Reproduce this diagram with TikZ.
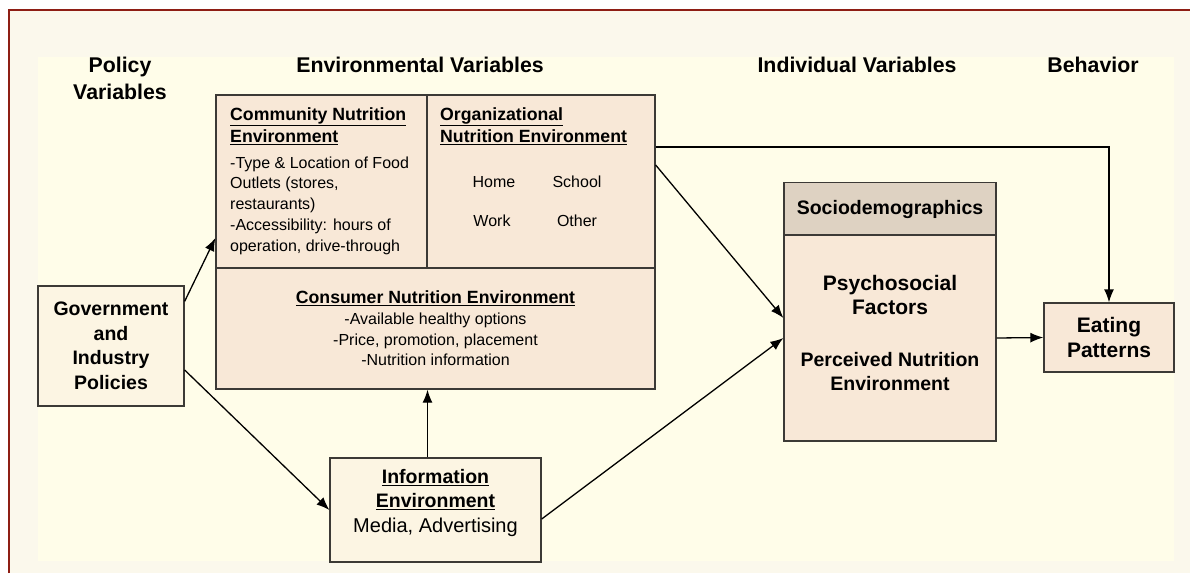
\documentclass[tikz,border=0pt]{standalone}
\usepackage{fontspec}
\setmainfont{Liberation Sans}
\usepackage{xcolor}
\definecolor{frameRed}{HTML}{8E1E14}
\definecolor{paperCream}{HTML}{FBF8EC}
\definecolor{panelCream}{HTML}{FFFDE9}
\definecolor{boxPeach}{HTML}{F8E8D7}
\definecolor{boxCream}{HTML}{FCF5E3}
\definecolor{headTaupe}{HTML}{DED2C2}
\definecolor{edgeGrey}{HTML}{3C3A36}
\usetikzlibrary{arrows.meta}
\tikzset{arrow/.style = {> = {Latex[length = 13pt, width = 10pt]}}}
\usetikzlibrary{positioning}

\newcommand{\headfont}{\fontsize{21.3}{27}\selectfont\bfseries}
\newcommand{\boxfont}{\fontsize{19.5}{24.5}\selectfont\bfseries}
\newcommand{\titlefont}{\fontsize{17.7}{22}\selectfont\bfseries}
\newcommand{\bodyfont}{\fontsize{16}{20.7}\selectfont}

\begin{document}
\begin{tikzpicture}[x = 1pt, y = -1pt,
	heading/.style = {font = \headfont, align = center, inner sep = 0pt},
	block/.style = {rectangle, draw = edgeGrey, line width = 1.3pt, fill = boxPeach, inner sep = 0pt, align = center},
	lightblock/.style = {block, fill = boxCream},
	headblock/.style = {block, fill = headTaupe},
	label/.style = {inner sep = 0pt, align = left}]
	\useasboundingbox (0, 0) rectangle (1190, 573);

	%% Paper
	\fill[paperCream] (9, 10) rectangle (1190, 573);
	\fill[panelCream] (38, 57) rectangle (1174, 561);
	\draw[frameRed, line width = 1.5pt] (9, 573) -- (9, 10) -- (1190, 10);

	%% Column headings
	\node[heading] (policy) at (120, 78.5) {Policy\\Variables};
	\node[heading] (envvar) at (420, 65) {Environmental Variables};
	\node[heading] (indvar) at (857, 65) {Individual Variables};
	\node[heading] (behav) at (1093, 65) {Behavior};

	%% Policy
	\node[lightblock, minimum width = 146pt, minimum height = 120pt, font = \boxfont] (gov) at (111, 346) {Government\\and\\Industry\\Policies};

	%% Environment
	\node[block, minimum width = 211pt, minimum height = 173pt] (community) at (321.5, 181.5) {};
	\node[block, minimum width = 228pt, minimum height = 173pt] (org) at (541, 181.5) {};
	\node[block, minimum width = 439pt, minimum height = 121pt, font = \bodyfont] (consumer) at (435.5, 328.5) {\titlefont\underline{Consumer Nutrition Environment}\\
		-Available healthy options\\-Price, promotion, placement\\-Nutrition information};

	\node[label, anchor = west, font = \titlefont] (commtitle) at (230, 126) {\underline{Community Nutrition}\\\underline{Environment}};
	\node[label, anchor = west, font = \bodyfont] (commtext) at (230, 205.5) {-Type \& Location of Food\\Outlets (stores,\\restaurants)\\-Accessibility: hours of\\operation, drive-through};

	\node[label, anchor = west, font = \titlefont] (orgtitle) at (440, 126) {\underline{Organizational}\\\underline{Nutrition Environment}};
	\node[label, font = \bodyfont] (home) at (494, 182) {Home};
	\node[label, font = \bodyfont] (school) at (577, 182) {School};
	\node[label, font = \bodyfont] (work) at (492, 221) {Work};
	\node[label, font = \bodyfont] (other) at (577, 221) {Other};

	%% Information
	\node[lightblock, minimum width = 211pt, minimum height = 104pt] (info) at (435.5, 510) {};
	\node[label, align = center, font = \boxfont] (infotext) at (435.5, 503) {\underline{Information}\\\underline{Environment}\\\fontsize{20}{24.5}\selectfont\mdseries Media, Advertising};

	%% Individual
	\node[headblock, minimum width = 212pt, minimum height = 53pt, font = \boxfont] (socio) at (890, 209) {Sociodemographics};
	\node[block, minimum width = 212pt, minimum height = 206pt] (psycho) at (890, 338) {};
	\node[label, align = center, font = \boxfont] (psychotext) at (890, 333) {\fontsize{21}{25}\selectfont Psychosocial\\\fontsize{21}{25}\selectfont Factors\\[27pt]Perceived Nutrition\\Environment};

	%% Behavior
	\node[block, minimum width = 130pt, minimum height = 69pt, font = \fontsize{21}{25}\selectfont\bfseries] (eating) at (1109, 337.5) {Eating\\Patterns};

	%% Arrows
	\draw[arrow, ->, line width = 1.3pt] ([yshift = -16pt]gov.north east) -- ([yshift = -56.5pt]community.west);
	\draw[arrow, ->, line width = 1.3pt] ([yshift = -24pt]gov.east) -- (info.west);
	\draw[arrow, ->, line width = 1.3pt] ([xshift = -8pt]info.north) -- ([xshift = -8pt]consumer.south);
	\draw[arrow, ->, line width = 1.3pt] ([yshift = -9pt]info.east) -- (psycho.west);
	\draw[arrow, ->, line width = 1.3pt] ([yshift = 16.5pt]org.east) -- ([yshift = 20pt]psycho.west);
	\draw[arrow, ->, line width = 1.3pt] ([yshift = 34.5pt]org.east) -| (eating.north);
	\draw[arrow, ->, line width = 1.3pt] (psycho.east) -- (eating.west);
\end{tikzpicture}
\end{document}
